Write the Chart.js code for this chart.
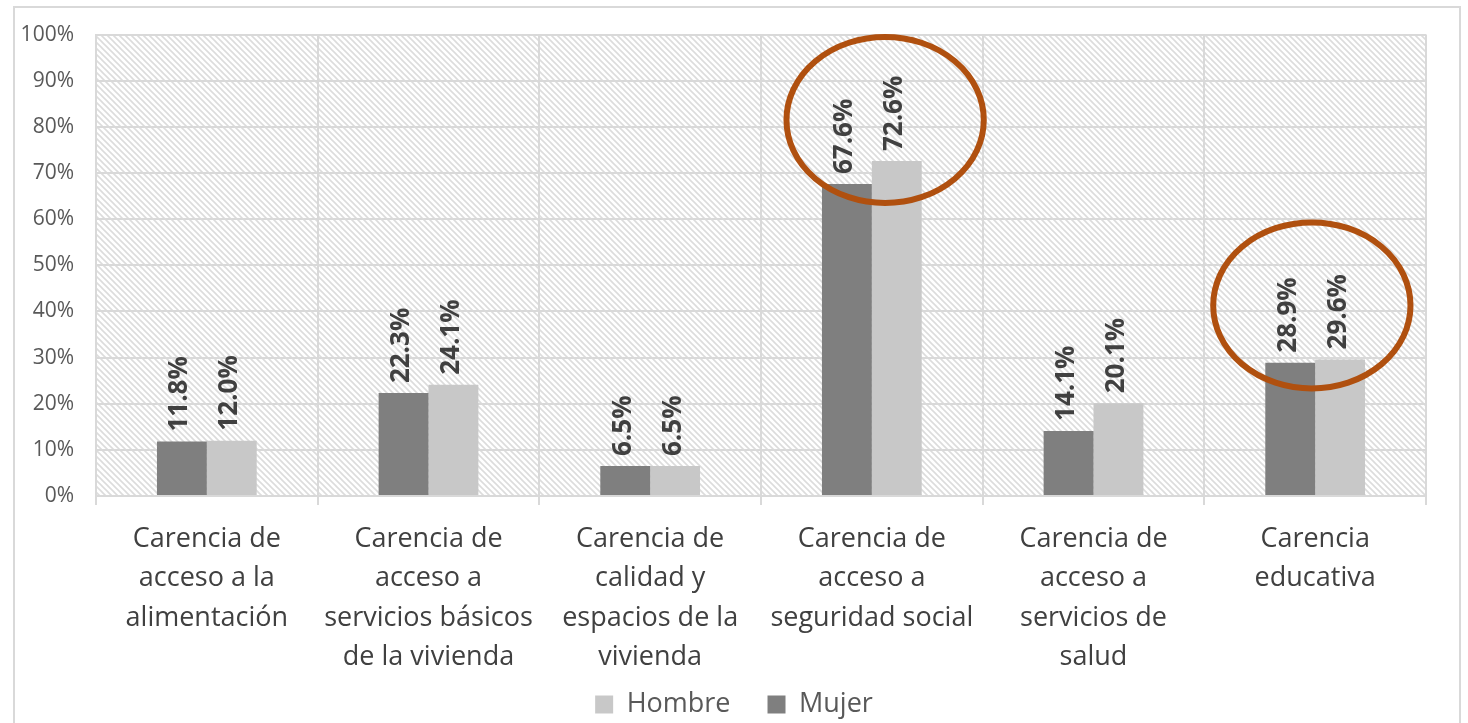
<!DOCTYPE html>
<html lang="es">
<head>
<meta charset="UTF-8">
<title>Carencias sociales por sexo</title>
<script src="https://cdn.jsdelivr.net/npm/chart.js"></script>
<style>
  html, body { margin: 0; padding: 0; background: #fff; }
  #wrap { position: relative; width: 1468px; height: 723px; }
</style>
</head>
<body>
<div id="wrap"><canvas id="barChart"></canvas></div>
<script>
// datos
const categorias = [
  ["Carencia de", "acceso a la", "alimentación"],
  ["Carencia de", "acceso a", "servicios básicos", "de la vivienda"],
  ["Carencia de", "calidad y", "espacios de la", "vivienda"],
  ["Carencia de", "acceso a", "seguridad social"],
  ["Carencia de", "acceso a", "servicios de", "salud"],
  ["Carencia", "educativa"]
];
const mujer  = [11.8, 22.3, 6.5, 67.6, 14.1, 28.9];
const hombre = [12.0, 24.1, 6.5, 72.6, 20.1, 29.6];
// categorías resaltadas con elipse (índice, centro en %)
const resaltados = [3, 5];
const centroElipse = [81.5, 41.3];

const fuente = "'Open Sans', 'Noto Sans', sans-serif";

// trama diagonal del fondo
function crearTrama() {
  const c = document.createElement("canvas");
  c.width = 6; c.height = 6;
  const g = c.getContext("2d");
  g.fillStyle = "#ffffff";
  g.fillRect(0, 0, 6, 6);
  g.strokeStyle = "#dcdcdc";
  g.lineWidth = 1.6;
  g.beginPath();
  g.moveTo(-1, -1); g.lineTo(7, 7);
  g.moveTo(-4, 2); g.lineTo(4, 10);
  g.moveTo(2, -4); g.lineTo(10, 4);
  g.stroke();
  return g.createPattern(c, "repeat");
}

const fondo = {
  id: "fondo",
  beforeDraw(chart) {
    const { ctx, chartArea: a } = chart;
    ctx.save();
    ctx.fillStyle = "#fff";
    ctx.fillRect(0, 0, chart.width, chart.height);
    ctx.strokeStyle = "#d9d9d9";
    ctx.lineWidth = 2;
    ctx.strokeRect(14, 7, chart.width - 22, chart.height + 10);
    ctx.fillStyle = crearTrama();
    ctx.fillRect(a.left, a.top, a.right - a.left, a.bottom - a.top);
    ctx.restore();
  }
};

const etiquetas = {
  id: "etiquetas",
  afterDatasetsDraw(chart) {
    const ctx = chart.ctx;
    ctx.save();
    ctx.font = "bold 26px " + fuente;
    ctx.fillStyle = "#404040";
    ctx.textAlign = "left";
    ctx.textBaseline = "middle";
    chart.data.datasets.forEach((ds, i) => {
      chart.getDatasetMeta(i).data.forEach((bar, j) => {
        ctx.save();
        ctx.translate(bar.x - 2, bar.y - 10);
        ctx.rotate(-Math.PI / 2);
        ctx.fillText(ds.data[j].toFixed(1) + "%", 0, 0);
        ctx.restore();
      });
    });
    ctx.restore();
  }
};

const elipses = {
  id: "elipses",
  afterDraw(chart) {
    const { ctx, scales: { x, y } } = chart;
    const anchoCat = (x.right - x.left) / categorias.length;
    const rx = anchoCat * 0.445;
    const ry = Math.abs(y.getPixelForValue(0) - y.getPixelForValue(18));
    ctx.save();
    ctx.strokeStyle = "#b0500f";
    ctx.lineWidth = 6;
    resaltados.forEach((idx, k) => {
      const cx = x.getPixelForValue(idx) + (idx === 3 ? anchoCat * 0.06 : -anchoCat * 0.015);
      const cy = y.getPixelForValue(centroElipse[k]);
      ctx.beginPath();
      ctx.ellipse(cx, cy, rx, ry, 0, 0, Math.PI * 2);
      ctx.stroke();
    });
    ctx.restore();
  }
};

new Chart(document.getElementById("barChart"), {
  type: "bar",
  data: {
    labels: categorias,
    datasets: [
      { label: "Mujer", data: mujer, backgroundColor: "#7f7f7f" },
      { label: "Hombre", data: hombre, backgroundColor: "#c8c8c8" }
    ]
  },
  options: {
    responsive: true,
    maintainAspectRatio: false,
    animation: false,
    layout: { padding: { left: 0, right: 0, top: 31, bottom: -5 } },
    datasets: { bar: { barPercentage: 1, categoryPercentage: 0.45 } },
    plugins: {
      legend: {
        position: "bottom",
        reverse: true,
        labels: {
          font: { family: fuente, size: 27 },
          color: "#595959",
          boxWidth: 18,
          boxHeight: 18,
          padding: 10,
          generateLabels(chart) {
            const items = Chart.defaults.plugins.legend.labels.generateLabels(chart);
            items.forEach(it => { if (it.text === "Hombre") it.text = "Hombre\u2003"; });
            return items;
          }
        }
      },
      tooltip: { enabled: false }
    },
    scales: {
      x: {
        grid: { color: "#d9d9d9", lineWidth: 2, offset: true, tickLength: 9 },
        border: { color: "#d9d9d9", width: 2 },
        ticks: {
          font: { family: fuente, size: 27, lineHeight: 1.45 },
          color: "#404040",
          maxRotation: 0,
          autoSkip: false,
          padding: 15
        },
        afterFit(scale) {
          const leyenda = scale.chart.legend ? scale.chart.legend.height : 45;
          scale.height = scale.chart.height + 5 - 496 - leyenda;
        }
      },
      y: {
        min: 0, max: 100,
        grid: { color: "#d9d9d9", lineWidth: 2, drawTicks: false },
        border: { color: "#d9d9d9", width: 2 },
        ticks: {
          stepSize: 10,
          font: { family: fuente, size: 21 },
          color: "#595959",
          padding: 22,
          callback: v => v + "%"
        },
        afterFit(scale) { scale.width = 96; }
      },
      // eje vacío a la derecha para el margen del área de trazado
      margen: {
        position: "right",
        display: true,
        grid: { display: false },
        border: { display: false },
        ticks: { display: false },
        afterFit(scale) { scale.width = 42; }
      }
    }
  },
  plugins: [fondo, etiquetas, elipses]
});
</script>
</body>
</html>
